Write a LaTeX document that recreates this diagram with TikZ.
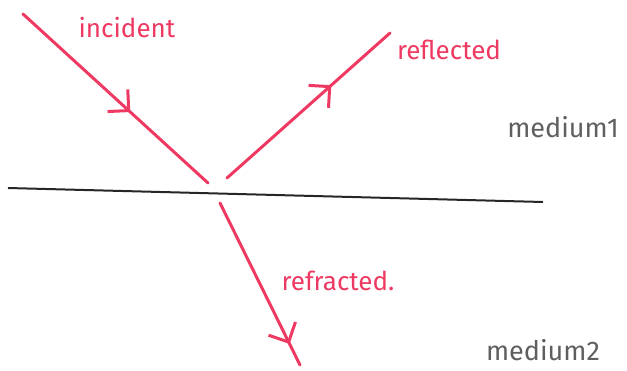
\documentclass[tikz,border=0pt]{standalone}
\usepackage{fontspec}
\setmainfont{Fira Sans}
\usepackage{xcolor}
\usetikzlibrary{arrows.meta,decorations.markings}
\definecolor{raypink}{RGB}{238,58,98}
\definecolor{medgray}{RGB}{95,95,95}

\begin{document}
\begin{tikzpicture}[
  x=1pt, y=-1pt,
  ray/.style={draw=raypink, line width=3pt, line cap=round},
  midarrow/.style={postaction={decorate}, decoration={markings,
      mark=at position #1 with {\arrow[raypink, line width=3pt]{Straight Barb[length=15pt, width=30pt]}}}},
  raylabel/.style={text=raypink, font=\fontsize{26}{30}\selectfont, inner sep=0pt},
  medlabel/.style={text=medgray, font=\fontsize{27}{31}\selectfont, inner sep=0pt},
]
\useasboundingbox (0,0) rectangle (627,370);

% end points of the rays
\coordinate (src) at (23,14);
\coordinate (hitin) at (208,183);
\coordinate (hitout) at (227,178);
\coordinate (rfl) at (390,33);
\coordinate (hitdown) at (220,203);
\coordinate (rfr) at (300,365);
\coordinate (surfL) at (8,188);
\coordinate (surfR) at (543,202);

% boundary between the media
\draw[black!85, line width=2pt] (surfL) -- (surfR);

% rays
\draw[ray, midarrow=0.58] (src) -- (hitin);
\draw[ray, midarrow=0.64] (hitout) -- (rfl);
\draw[ray, midarrow=0.87] (hitdown) -- (rfr);

% labels
\node[raylabel] (inc) at (127,28) {incident};
\node[raylabel] (refl) at (449,50) {reflected};
\node[raylabel] (refr) at (338,281) {refracted.};
\node[medlabel] (med1) at (563,127) {medium1};
\node[medlabel] (med2) at (543,350) {medium2};
\end{tikzpicture}
\end{document}
